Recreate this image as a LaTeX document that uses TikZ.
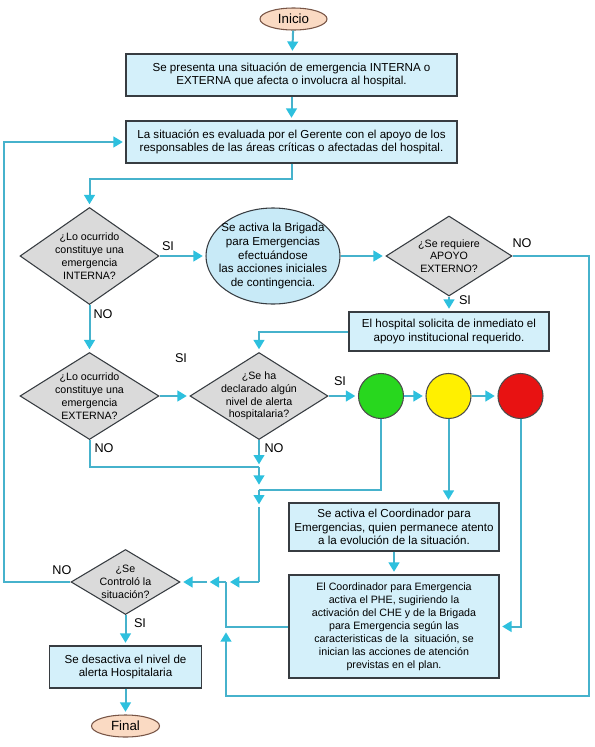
\documentclass[tikz,border=0pt]{standalone}
\usepackage{fontspec}
\setmainfont{Liberation Sans}
\usetikzlibrary{shapes.geometric,arrows.meta,positioning,calc}
\definecolor{flowline}{RGB}{70,178,204}
\definecolor{flowtip}{RGB}{45,192,222}
\definecolor{boxfill}{RGB}{212,240,250}
\definecolor{brigfill}{RGB}{200,234,247}
\definecolor{boxdraw}{RGB}{55,60,65}
\definecolor{askfill}{RGB}{218,218,218}
\definecolor{termfill}{RGB}{250,218,195}
\definecolor{termdraw}{RGB}{120,85,70}
\definecolor{lampgreen}{RGB}{40,215,30}
\definecolor{lampyellow}{RGB}{255,240,0}
\definecolor{lampred}{RGB}{232,18,18}

\begin{document}
\begin{tikzpicture}[x=0.75pt, y=-0.75pt,
    txt/.style={font=\fontsize{8}{9.6}\selectfont, align=center},
    bigtxt/.style={font=\fontsize{8.7}{10.2}\selectfont, align=center},
    task/.style={rectangle, draw=boxdraw, line width=0.8pt, fill=boxfill, bigtxt, inner sep=2pt},
    ask/.style={diamond, draw=boxdraw, line width=0.8pt, fill=askfill, inner sep=0pt},
    term/.style={ellipse, draw=termdraw, line width=0.8pt, fill=termfill, font=\fontsize{10}{12}\selectfont,
                 inner sep=0pt, minimum width=50.25pt, minimum height=16.5pt},
    lamp/.style={circle, draw=black!70, line width=0.8pt, minimum size=33.75pt, inner sep=0pt},
    wire/.style={draw=flowline, line width=1.5pt},
    flow/.style={wire, shorten >=2pt, -{Triangle[width=8pt,length=7pt,color=flowtip]}},
    tag/.style={font=\fontsize{9.5}{11}\selectfont}
]
    \fill[white] (0,0) rectangle (595,747);
    % main column
    \node[term] (start) at (293.5,19) {Inicio};
    \node[task, minimum width=248.25pt, minimum height=31.5pt] (present) at (291.5,75)
        {Se presenta una situación de emergencia INTERNA o\\EXTERNA que afecta o involucra al hospital.};
    \node[task, minimum width=248.25pt, minimum height=31.5pt] (evalua) at (291.5,142)
        {La situación es evaluada por el Gerente con el apoyo de los\\responsables de las áreas críticas o afectadas del hospital.};
    % first row
    \node[ask, minimum width=104.25pt, minimum height=72.75pt,
          label={[txt]center:{¿Lo ocurrido\\constituye una\\emergencia\\INTERNA?}}] (intern) at (89.5,256) {};
    \node[ellipse, draw=boxdraw, line width=0.8pt, fill=brigfill, inner sep=0pt,
          minimum width=100.5pt, minimum height=72pt,
          label={[bigtxt]center:{Se activa la Brigada\\para Emergencias\\efectuándose\\las acciones iniciales\\de contingencia.}}] (brigada) at (273,256) {};
    \node[ask, minimum width=94.5pt, minimum height=60pt,
          label={[txt]center:{¿Se requiere\\APOYO\\EXTERNO?}}] (apoyo) at (449,256) {};
    \node[task, minimum width=150pt, minimum height=29.25pt] (solicita) at (449,331.5)
        {El hospital solicita de inmediato el\\apoyo institucional requerido.};
    % second row
    \node[ask, minimum width=104.25pt, minimum height=65.25pt,
          label={[txt]center:{¿Lo ocurrido\\constituye una\\emergencia\\EXTERNA?}}] (extern) at (89.5,396) {};
    \node[ask, minimum width=103.5pt, minimum height=65.25pt,
          label={[txt]center:{¿Se ha\\declarado algún\\nivel de alerta\\hospitalaria?}}] (alerta) at (259,396) {};
    \node[lamp, fill=lampgreen] (verde) at (381,396) {};
    \node[lamp, fill=lampyellow] (amarillo) at (448.5,396) {};
    \node[lamp, fill=lampred] (rojo) at (520.5,396) {};
    % lower part
    \node[task, minimum width=157.5pt, minimum height=36pt] (coord) at (394,527)
        {Se activa el Coordinador para\\Emergencias, quien permanece atento\\a la evolución de la situación.};
    \node[task, txt, font=\fontsize{8}{9.8}\selectfont, minimum width=157.5pt, minimum height=77.25pt] (plan) at (394,626.5)
        {El Coordinador para Emergencia\\activa el PHE, sugiriendo la\\activación del CHE y de la Brigada\\para Emergencia según las\\caracteristicas de la\ \ situación, se\\inician las acciones de atención\\previstas en el plan.};
    \node[ask, minimum width=81.75pt, minimum height=48.75pt,
          label={[txt]center:{¿Se\\Controló la\\situación?}}] (control) at (125.5,582) {};
    \node[task, minimum width=114pt, minimum height=31.5pt] (desact) at (125.5,667)
        {Se desactiva el nivel de\\alerta Hospitalaria};
    \node[term, minimum width=51pt] (final) at (125.5,726) {Final};
    % junctions
    \coordinate (j1) at (259,467);
    \coordinate (j2) at (259,490);
    \coordinate (j2b) at (259,507);
    \coordinate (j3) at (259,582);
    \coordinate (jA) at (226,582);
    \coordinate (jC) at (207,582);
    \coordinate (jB) at (226,627);
    \coordinate (loopR) at (589,696);
    % connectors
    \draw[flow] (start) -- (present);
    \draw[flow] (present) -- (evalua);
    \draw[flow] (evalua.south) -- ++(0,15) -| (intern.north);
    \draw[flow] (intern) -- (brigada);
    \draw[flow] (brigada) -- (apoyo);
    \draw[flow] (apoyo) -- (solicita);
    \draw[flow, shorten >=4pt] (apoyo.east) -| (loopR) -| (jB);
    \draw[flow] (solicita.west) -| (alerta.north);
    \draw[flow] (intern) -- (extern);
    \draw[flow] (extern) -- (alerta);
    \draw[flow] (alerta) -- (verde);
    \draw[flow] (verde) -- (amarillo);
    \draw[flow] (amarillo) -- (rojo);
    \draw[wire] (extern.south) |- (j1);
    \draw[flow] (alerta.south) -- (j1);
    \draw[flow, shorten >=4pt] (j1) -- (j2);
    \draw[wire] (verde.south) |- (j2);
    \draw[flow] (j2) -- (j2b);
    \draw[wire] (j2b) -- (j3);
    \draw[flow, shorten >=3pt] (j3) -- (jA);
    \draw[flow] (jA) -- (jC);
    \draw[flow] (jC) -- (control.east);
    \draw[wire] (plan.west) -| (jA);
    \draw[flow] (amarillo.south) -- (amarillo.south |- coord.north);
    \draw[flow] (coord) -- (plan);
    \draw[flow] (rojo.south) |- (plan.east);
    \draw[flow] (control.west) -- ++(-66,0) |- (evalua.west);
    \draw[flow] (control) -- (desact);
    \draw[flow] (desact) -- (final);
    % answers
    \node[tag] (siIntern) at (168,246) {SI};
    \node[tag] (noIntern) at (103,314) {NO};
    \node[tag] (noApoyo) at (522,243) {NO};
    \node[tag] (siApoyo) at (465,300) {SI};
    \node[tag] (siExtern) at (181,358) {SI};
    \node[tag] (siAlerta) at (340,381) {SI};
    \node[tag] (noExtern) at (104,448) {NO};
    \node[tag] (noAlerta) at (274,448) {NO};
    \node[tag] (noControl) at (62,570) {NO};
    \node[tag] (siControl) at (140,623) {SI};
\end{tikzpicture}
\end{document}
